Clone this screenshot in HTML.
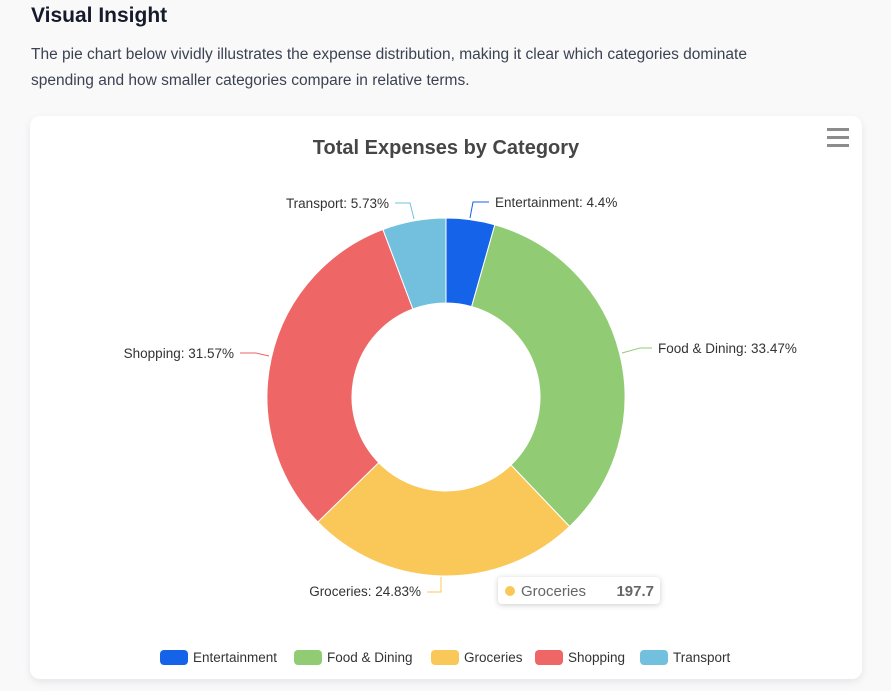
<!DOCTYPE html>
<html><head><meta charset="utf-8"><style>
body{margin:0;width:891px;height:691px;background:#f9f9fa;font-family:"Liberation Sans",sans-serif;overflow:hidden;position:relative}
h2{position:absolute;left:31px;top:4px;margin:0;font-size:21px;font-weight:bold;color:#151b2b}
p{position:absolute;left:31px;top:42px;margin:0;font-size:15.5px;line-height:26px;color:#3b4252;width:780px}
.card{position:absolute;left:30px;top:116px;width:832px;height:563px;background:#fff;border-radius:10px;box-shadow:0 3px 8px rgba(0,0,0,0.08)}
svg{position:absolute;left:0;top:0}
</style></head><body>
<h2>Visual Insight</h2>
<p>The pie chart below vividly illustrates the expense distribution, making it clear which categories dominate spending and how smaller categories compare in relative terms.</p>
<div class="card"></div>
<svg width="891" height="691" id="s" font-family="Liberation Sans, sans-serif">
<text x="446" y="154" text-anchor="middle" font-size="20" font-weight="bold" fill="#464646">Total Expenses by Category</text>
<g fill="#8c8c8c"><rect x="827" y="128" width="22" height="3"/><rect x="827" y="136" width="22" height="3"/><rect x="827" y="144" width="22" height="3"/></g>
<g id="pie"></g>
<g fill="none" stroke-width="1">
<polyline points="470,218 473,202 489,202" stroke="#1463e8"/>
<polyline points="622,353 640,348 652,348" stroke="#91cc75"/>
<polyline points="441,577 441,592 427,592" stroke="#fac858"/>
<polyline points="269,356 256,353 240,353" stroke="#ee6666"/>
<polyline points="414,219 410,203 395,203" stroke="#73c0de"/>
</g>
<g font-size="13.5" fill="#333">
<text x="495" y="207">Entertainment: 4.4%</text>
<text x="658" y="353">Food &amp; Dining: 33.47%</text>
<text x="421" y="596" text-anchor="end">Groceries: 24.83%</text>
<text x="234" y="358" text-anchor="end">Shopping: 31.57%</text>
<text x="389" y="208" text-anchor="end">Transport: 5.73%</text>
</g>
<rect x="498" y="577" width="162" height="27" rx="4" fill="#fff" style="filter:drop-shadow(0 1px 3px rgba(0,0,0,0.2))"/>
<circle cx="510" cy="591" r="5" fill="#fac858"/>
<text x="521" y="596" font-size="15" fill="#666">Groceries</text>
<text x="654" y="596" font-size="15" font-weight="bold" fill="#666" text-anchor="end">197.7</text>
<g font-size="13.5" fill="#333">
<rect x="160" y="650" width="28" height="15" rx="4" fill="#1463e8"/><text x="193" y="662">Entertainment</text>
<rect x="294" y="650" width="28" height="15" rx="4" fill="#91cc75"/><text x="327" y="662">Food &amp; Dining</text>
<rect x="431" y="650" width="28" height="15" rx="4" fill="#fac858"/><text x="464" y="662">Groceries</text>
<rect x="535" y="650" width="28" height="15" rx="4" fill="#ee6666"/><text x="568" y="662">Shopping</text>
<rect x="640" y="650" width="28" height="15" rx="4" fill="#73c0de"/><text x="673" y="662">Transport</text>
</g>
</svg>
<script>
var cx=446,cy=397,R=179,r=94,v=[4.4,33.47,24.83,31.57,5.73],c=["#1463e8","#91cc75","#fac858","#ee6666","#73c0de"],a=0,h="";
function p(ang,rad){var t=(ang-90)*Math.PI/180;return (cx+rad*Math.cos(t)).toFixed(2)+","+(cy+rad*Math.sin(t)).toFixed(2);}
for(var i=0;i<5;i++){var b=a+v[i]*3.6,l=(b-a)>180?1:0;
h+='<path fill="'+c[i]+'" stroke="#fff" stroke-width="1" d="M'+p(a,R)+' A'+R+','+R+' 0 '+l+' 1 '+p(b,R)+' L'+p(b,r)+' A'+r+','+r+' 0 '+l+' 0 '+p(a,r)+' Z"/>';a=b;}
document.getElementById("pie").innerHTML=h;
</script>
</body></html>
